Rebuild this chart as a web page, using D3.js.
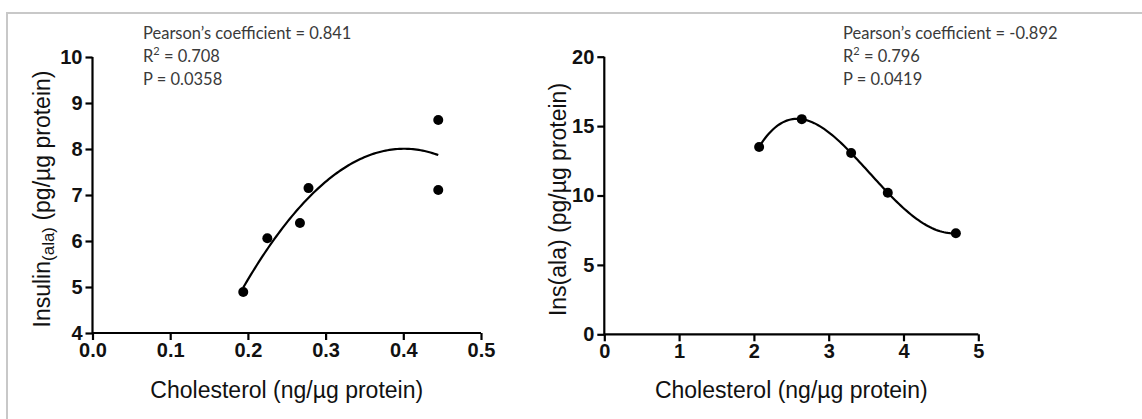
<!DOCTYPE html>
<html lang="en">
<head>
    <meta charset="UTF-8">
    <title>Insulin vs Cholesterol</title>
    <script src="https://cdn.jsdelivr.net/npm/d3@7"></script>
    <style>
        body { margin: 0; background: #fff; }
        .tick text { font-family: Arial, "Liberation Sans", sans-serif; font-weight: bold; font-size: 20px; fill: #111; }
        .ttl { font-family: Arial, "Liberation Sans", sans-serif; font-size: 23px; fill: #111; }
        .note { font-family: Lato, "Open Sans", sans-serif; font-size: 16.5px; fill: #3a3a3a; }
    </style>
</head>
<body>
<svg width="1142" height="419"></svg>
<script>
    // left panel: insulin(ala) vs cholesterol
    const cholA = [0.194, 0.225, 0.267, 0.278, 0.445, 0.445];
    const insA = [4.89, 6.06, 6.39, 7.15, 8.63, 7.11];
    const xTicksA = [0.0, 0.1, 0.2, 0.3, 0.4, 0.5];
    const yTicksA = [4, 5, 6, 7, 8, 9, 10];
    const notesA = ["Pearson\u2019s coefficient = 0.841", "R\u00b2 = 0.708", "P = 0.0358"];

    // right panel: ins(ala) vs cholesterol
    const cholB = [2.07, 2.64, 3.30, 3.79, 4.70];
    const insB = [13.5, 15.5, 13.06, 10.2, 7.28];
    const xTicksB = [0, 1, 2, 3, 4, 5];
    const yTicksB = [0, 5, 10, 15, 20];
    const notesB = ["Pearson\u2019s coefficient = -0.892", "R\u00b2 = 0.796", "P = 0.0419"];

    const svg = d3.select("svg");

    // light frame lines
    svg.append("line").attr("x1", 7).attr("x2", 1142).attr("y1", 13).attr("y2", 13)
        .attr("stroke", "#c8c8c8").attr("stroke-width", 2);
    svg.append("line").attr("x1", 7).attr("x2", 7).attr("y1", 12).attr("y2", 419)
        .attr("stroke", "#c8c8c8").attr("stroke-width", 2);

    // least squares quadratic
    function quadFit(xs, ys){
        let s = [0,0,0,0,0], t = [0,0,0];
        xs.forEach((x,i)=>{
            for(let k=0;k<5;k++) s[k] += Math.pow(x,k);
            for(let k=0;k<3;k++) t[k] += Math.pow(x,k)*ys[i];
        });
        const M = [[s[0],s[1],s[2],t[0]],[s[1],s[2],s[3],t[1]],[s[2],s[3],s[4],t[2]]];
        for(let i=0;i<3;i++){
            for(let j=i+1;j<3;j++){
                const f = M[j][i]/M[i][i];
                for(let k=i;k<4;k++) M[j][k] -= f*M[i][k];
            }
        }
        const c = [0,0,0];
        for(let i=2;i>=0;i--){
            let v = M[i][3];
            for(let k=i+1;k<3;k++) v -= M[i][k]*c[k];
            c[i] = v/M[i][i];
        }
        return x => c[0] + c[1]*x + c[2]*x*x;
    }

    // polynomial through all the points
    function lagrange(xs, ys){
        return x => d3.sum(xs, (xi,i)=>{
            let p = ys[i];
            xs.forEach((xj,j)=>{ if(j!==i) p *= (x-xj)/(xi-xj); });
            return p;
        });
    }

    function panel(o){
        const x = d3.scaleLinear().domain(o.xDom).range([o.left, o.right]);
        const y = d3.scaleLinear().domain(o.yDom).range([o.bottom, o.top]);
        const g = svg.append("g");

        const xAxis = g.append("g").attr("transform", `translate(0,${o.bottom})`)
            .call(d3.axisBottom(x).tickValues(o.xTicks).tickFormat(o.xFmt).tickSize(7).tickPadding(3));
        const yAxis = g.append("g").attr("transform", `translate(${o.left},0)`)
            .call(d3.axisLeft(y).tickValues(o.yTicks).tickFormat(d3.format("d")).tickSize(7).tickPadding(3));
        [xAxis, yAxis].forEach(a=>{
            a.select(".domain").attr("stroke", "#000").attr("stroke-width", 2.2);
            a.selectAll(".tick line").attr("stroke", "#000").attr("stroke-width", 2.2);
        });
        xAxis.select(".domain").attr("d", `M${o.left},0H${o.right}`);
        yAxis.select(".domain").attr("d", `M0,${o.bottom}V${o.top}`);

        // fitted curve
        const xs = d3.range(0, 101).map(i => o.xs[0] + (d3.max(o.xs)-o.xs[0])*i/100);
        g.append("path")
            .datum(xs)
            .attr("d", d3.line().x(d=>x(d)).y(d=>y(o.fit(d))))
            .attr("fill", "none").attr("stroke", "#000").attr("stroke-width", 2.2);

        g.selectAll(".dot").data(o.xs).join("circle")
            .attr("cx", d=>x(d)).attr("cy", (d,i)=>y(o.ys[i])).attr("r", 5).attr("fill", "#000");

        // axis titles
        g.append("text").attr("class", "ttl").attr("text-anchor", "middle")
            .attr("x", (o.left+o.right)/2).attr("y", 398).text("Cholesterol (ng/\u00b5g protein)");
        const yt = g.append("text").attr("class", "ttl").attr("text-anchor", "middle")
            .attr("transform", `translate(${o.yTitleX},${(o.top+o.bottom)/2+4}) rotate(-90)`);
        o.yTitle.forEach(part=>{
            yt.append("tspan").attr("font-size", part.sub ? 17 : 23)
                .attr("dy", part.dy || 0).text(part.t);
        });

        g.selectAll(".note").data(o.notes).join("text").attr("class", "note")
            .attr("x", o.noteX).attr("y", (d,i)=>39 + i*23)
            .each(function(d){
                const t = d3.select(this);
                if(d.startsWith("R\u00b2")){
                    t.append("tspan").text("R");
                    t.append("tspan").attr("font-size", 11).attr("dy", -7).text("2");
                    t.append("tspan").attr("dy", 7).text(d.slice(2));
                } else t.text(d);
            });
    }

    panel({
        xDom: [0, 0.5], yDom: [4, 10], left: 92.5, right: 481, top: 57, bottom: 333,
        xTicks: xTicksA, yTicks: yTicksA, xFmt: d3.format(".1f"),
        xs: cholA, ys: insA, fit: quadFit(cholA, insA),
        yTitleX: 50,
        yTitle: [{t: "Insulin"}, {t: "(ala)", sub: true, dy: 4}, {t: " (pg/\u00b5g protein)", dy: -4}],
        notes: notesA, noteX: 143
    });

    panel({
        xDom: [0, 5], yDom: [0, 20], left: 604.3, right: 978.3, top: 56.7, bottom: 334.3,
        xTicks: xTicksB, yTicks: yTicksB, xFmt: d3.format("d"),
        xs: cholB, ys: insB, fit: lagrange(cholB, insB),
        yTitleX: 566,
        yTitle: [{t: "Ins(ala) (pg/\u00b5g protein)"}],
        notes: notesB, noteX: 843
    });
</script>
</body>
</html>
